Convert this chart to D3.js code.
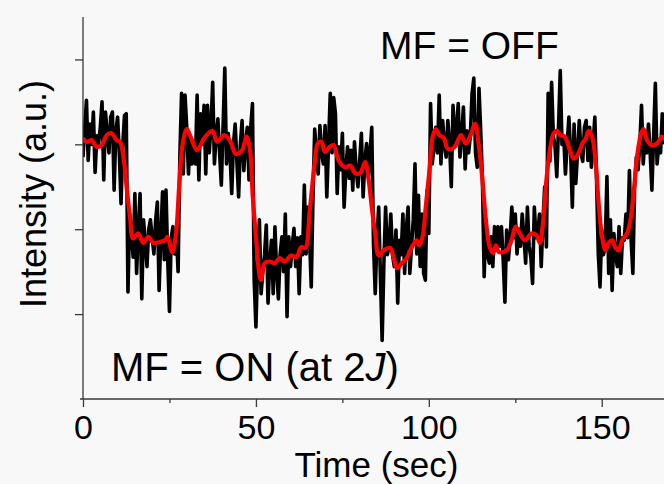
<!DOCTYPE html>
<html>
<head>
<meta charset="utf-8">
<script src="https://cdn.jsdelivr.net/npm/d3@7"></script>
<style>
  body { margin: 0; background: #f8f8f8; }
  svg { display: block; font-family: "Liberation Sans", Arial, sans-serif; }
</style>
</head>
<body>
<script>

var width = 664,
    height = 484;

// raw trace, sampled every 0.5 s
var dt = 0.5;
var rawIntensity = [
  2.85, 3.2, 3.52, 2.81, 3.24, 3.0, 3.38, 2.67, 3.1, 3.01, 3.2, 3.5, 2.58, 3.38, 3.13, 2.9, 3.32, 3.38, 2.46, 3.16,
  3.32, 2.9, 2.3, 3.0, 3.34, 3.36, 1.26, 2.18, 1.95, 1.67, 2.42, 1.48, 2.0, 2.42, 1.18, 2.11, 1.85, 1.56, 2.0, 2.11,
  1.9, 1.71, 2.1, 2.32, 1.28, 1.9, 2.44, 1.64, 2.46, 1.64, 1.03, 1.9, 2.03, 1.71, 1.95, 1.5, 2.85, 3.6, 2.65, 3.58,
  3.2, 2.65, 3.1, 2.77, 2.95, 2.77, 3.58, 2.58, 3.36, 3.0, 3.46, 2.65, 3.46, 2.9, 3.2, 3.73, 2.77, 3.1, 3.3, 2.9,
  2.52, 3.2, 3.9, 2.77, 3.13, 2.9, 2.42, 3.0, 3.24, 2.8, 2.38, 3.0, 3.28, 2.69, 3.0, 3.2, 2.58, 3.2, 3.48, 1.4,
  0.85, 1.6, 2.11, 1.24, 1.5, 1.7, 2.05, 1.13, 1.6, 1.87, 1.24, 2.03, 1.5, 1.18, 1.7, 1.91, 1.5, 2.18, 0.97, 1.91,
  1.56, 1.8, 2.01, 1.56, 1.9, 1.24, 1.91, 1.7, 2.52, 1.71, 2.26, 1.9, 1.32, 2.38, 3.18, 2.9, 2.65, 3.22, 2.9, 2.77,
  3.22, 2.38, 3.0, 3.6, 2.9, 3.55, 3.36, 2.42, 2.97, 2.7, 3.13, 2.26, 2.7, 2.97, 2.6, 2.93, 2.46, 3.03, 2.7, 2.5,
  2.8, 3.13, 2.38, 2.8, 3.01, 2.62, 2.9, 3.2, 1.83, 1.24, 1.9, 2.26, 1.44, 0.69, 1.6, 2.26, 1.7, 1.79, 2.18, 1.7,
  1.56, 1.99, 1.13, 1.87, 1.7, 2.18, 1.48, 2.0, 2.26, 1.48, 1.8, 2.11, 2.77, 1.71, 2.4, 1.56, 2.18, 1.48, 1.4, 2.46,
  1.95, 3.48, 2.77, 2.97, 3.2, 2.9, 3.58, 2.77, 3.28, 3.0, 2.85, 3.28, 3.0, 2.5, 3.46, 2.97, 3.2, 3.48, 2.85, 3.1,
  3.44, 2.71, 3.16, 2.9, 3.1, 3.6, 3.78, 2.9, 2.73, 3.66, 3.16, 2.58, 1.44, 2.11, 1.7, 1.6, 1.91, 1.56, 2.03, 1.8,
  2.03, 1.8, 2.03, 1.64, 1.14, 1.99, 1.64, 1.9, 2.26, 1.9, 2.18, 1.71, 2.0, 1.8, 2.18, 1.9, 1.6, 2.26, 1.8, 1.67,
  1.36, 2.26, 1.9, 1.95, 2.18, 1.56, 2.1, 2.5, 1.79, 3.6, 2.8, 3.73, 3.1, 2.97, 2.62, 3.2, 3.87, 3.0, 3.1, 2.65,
  3.0, 3.32, 2.9, 2.26, 3.24, 2.54, 2.9, 3.28, 2.9, 2.8, 3.2, 3.28, 2.81, 3.2, 2.73, 3.0, 3.32, 2.58, 1.71, 1.32,
  1.99, 1.7, 1.8, 2.62, 1.48, 2.11, 1.28, 1.95, 1.7, 1.56, 2.03, 1.48, 1.9, 1.87, 2.18, 1.9, 2.69, 1.87, 1.48, 2.5,
  2.85, 2.7, 3.0, 3.46, 2.77, 3.1, 2.9, 3.24, 2.9, 2.46, 3.1, 3.72, 2.77, 3.0, 2.9, 3.36, 3.0
];

// smoothed trace
var smoothTime = [
  0, 1.1, 2.5, 4.0, 5.4, 6.9, 8.3, 9.7, 10.7, 11.7,
  12.6, 13.6, 14.5, 16.0, 17.4, 18.9, 20.3, 22.3, 23.7, 24.4,
  25.8, 26.8, 27.8, 28.7, 30.0, 31.1, 33.0, 35.0, 37.4, 38.8,
  40.8, 42.7, 44.1, 46.0, 47.3, 48.3, 49.1, 50.1, 51.1, 51.5,
  52.5, 54.0, 55.4, 56.9, 58.3, 60.2, 61.7, 63.1, 64.3, 65.5,
  67.0, 67.9, 68.9, 70.0, 71.3, 72.5, 73.9, 75.8, 77.3, 78.7,
  80.1, 81.6, 82.6, 83.5, 84.5, 85.5, 86.9, 88.8, 89.8, 90.8,
  92.2, 93.6, 95.1, 96.5, 97.2, 98.2, 99.1, 100.1, 101.1, 102.0,
  103.0, 104.4, 105.4, 106.9, 107.8, 109.3, 110.7, 112.1, 113.4, 114.5,
  115.5, 116.5, 117.6, 118.6, 119.4, 120.3, 122.5, 123.9, 125.1, 126.3,
  127.8, 129.7, 131.1, 132.1, 133.0, 134.0, 135.0, 136.1, 137.1, 137.9,
  139.3, 140.8, 141.9, 143.2, 144.4, 145.4, 146.2, 147.2, 148.2, 149.1,
  150.1, 151.1, 152.0, 153.0, 154.0, 154.9, 155.9, 157.3, 158.3, 159.3,
  160.2, 161.4, 162.1, 163.1, 164.5, 166.0, 167.4, 168.2
];
var smoothIntensity = [
  3.07, 3.03, 3.05, 2.97, 2.99, 3.11, 3.13, 3.05, 3.03, 2.85,
  2.50, 2.14, 1.89, 1.95, 1.84, 1.91, 1.84, 1.85, 1.87, 1.91,
  1.73, 1.91, 2.50, 2.97, 3.18, 3.09, 2.93, 3.07, 3.16, 3.03,
  3.11, 3.03, 2.89, 2.93, 3.09, 2.93, 2.38, 1.87, 1.44, 1.40,
  1.60, 1.62, 1.60, 1.66, 1.62, 1.69, 1.67, 1.79, 1.78, 2.19,
  2.78, 3.01, 3.03, 2.91, 2.97, 2.99, 2.81, 2.73, 2.75, 2.66,
  2.66, 2.79, 2.58, 2.26, 1.95, 1.69, 1.75, 1.78, 1.67, 1.54,
  1.60, 1.66, 1.79, 1.87, 1.81, 1.91, 2.26, 2.66, 3.09, 3.18,
  3.11, 3.07, 2.95, 2.95, 2.99, 3.11, 3.01, 3.11, 3.24, 2.97,
  2.58, 2.11, 1.79, 1.72, 1.81, 1.73, 1.75, 1.87, 2.03, 1.95,
  1.87, 1.95, 1.93, 1.84, 2.07, 2.58, 2.93, 3.13, 3.16, 3.11,
  3.09, 2.93, 2.83, 2.89, 3.01, 3.07, 3.16, 3.09, 2.81, 2.31,
  1.91, 1.75, 1.84, 1.87, 1.78, 1.75, 1.87, 1.95, 2.11, 2.46,
  2.85, 3.13, 3.18, 3.05, 2.99, 3.01, 3.09, 3.05
];

var xMajor = [0, 50, 100, 150],
    xMinor = [25, 75, 125],
    yTicks = [1, 2, 3, 4];

var plotLeft = 83, plotRight = 664, plotTop = 17, plotBottom = 399;

var x = d3.scaleLinear().domain([0, 168]).range([plotLeft, plotRight]);
var y = d3.scaleLinear().domain([0, 4.5]).range([plotBottom, plotTop]);

var svg = d3.select("body").append("svg")
    .attr("width", width)
    .attr("height", height);

svg.append("rect")
    .attr("width", width)
    .attr("height", height)
    .attr("fill", "#f8f8f8");

svg.append("clipPath").attr("id", "plot")
  .append("rect")
    .attr("x", plotLeft).attr("y", 0)
    .attr("width", plotRight - plotLeft).attr("height", plotBottom);

var raw = rawIntensity.map(function(v, i) { return [i * dt, v]; });
var smooth = d3.zip(smoothTime, smoothIntensity);

var line = d3.line()
    .x(function(d) { return x(d[0]); })
    .y(function(d) { return y(d[1]); });

var g = svg.append("g").attr("clip-path", "url(#plot)");

g.append("path")
    .datum(raw)
    .attr("d", line)
    .attr("fill", "none")
    .attr("stroke", "#000")
    .attr("stroke-width", 3.6)
    .attr("stroke-linejoin", "round");

g.append("path")
    .datum(smooth)
    .attr("d", line.curve(d3.curveCatmullRom))
    .attr("fill", "none")
    .attr("stroke", "#ff0000")
    .attr("stroke-width", 4.2)
    .attr("stroke-linejoin", "round");

// axes
var axisColor = "#3a3a3a";

var yAxis = svg.append("g")
    .attr("transform", "translate(" + plotLeft + ",0)")
    .call(d3.axisLeft(y).tickValues(yTicks).tickSize(8).tickFormat(""));

var xMinorAxis = svg.append("g")
    .attr("transform", "translate(0," + plotBottom + ")")
    .call(d3.axisBottom(x).tickValues(xMinor).tickSize(4).tickFormat(""));

var xAxis = svg.append("g")
    .attr("transform", "translate(0," + plotBottom + ")")
    .call(d3.axisBottom(x).tickValues(xMajor).tickSize(8).tickPadding(8));

[yAxis, xAxis, xMinorAxis].forEach(function(a) {
  a.select(".domain").remove();
  a.selectAll("line").attr("stroke", axisColor).attr("stroke-width", 1.3);
});

xAxis.selectAll("text")
    .attr("fill", "#000")
    .style("font-size", "34px")
    .style("font-family", "'Liberation Sans', Arial, sans-serif");

svg.append("line")
    .attr("x1", plotLeft).attr("x2", plotLeft)
    .attr("y1", plotTop).attr("y2", plotBottom)
    .attr("stroke", axisColor).attr("stroke-width", 1.3);

svg.append("line")
    .attr("x1", 80).attr("x2", plotRight)
    .attr("y1", plotBottom).attr("y2", plotBottom)
    .attr("stroke", axisColor).attr("stroke-width", 1.3);

svg.append("text")
    .attr("x", (plotLeft + plotRight) / 2 + 3)
    .attr("y", 477)
    .attr("text-anchor", "middle")
    .style("font-size", "35px")
    .text("Time (sec)");

svg.append("text")
    .attr("transform", "translate(46,194) rotate(-90)")
    .attr("text-anchor", "middle")
    .style("font-size", "36px")
    .text("Intensity (a.u.)");

svg.append("text")
    .attr("x", 380)
    .attr("y", 59)
    .style("font-size", "39px")
    .text("MF = OFF");

var on = svg.append("text")
    .attr("x", 111)
    .attr("y", 381)
    .style("font-size", "40px");
on.append("tspan").text("MF = ON (at 2");
on.append("tspan").style("font-style", "italic").text("J");
on.append("tspan").text(")");

</script>
</body>
</html>
